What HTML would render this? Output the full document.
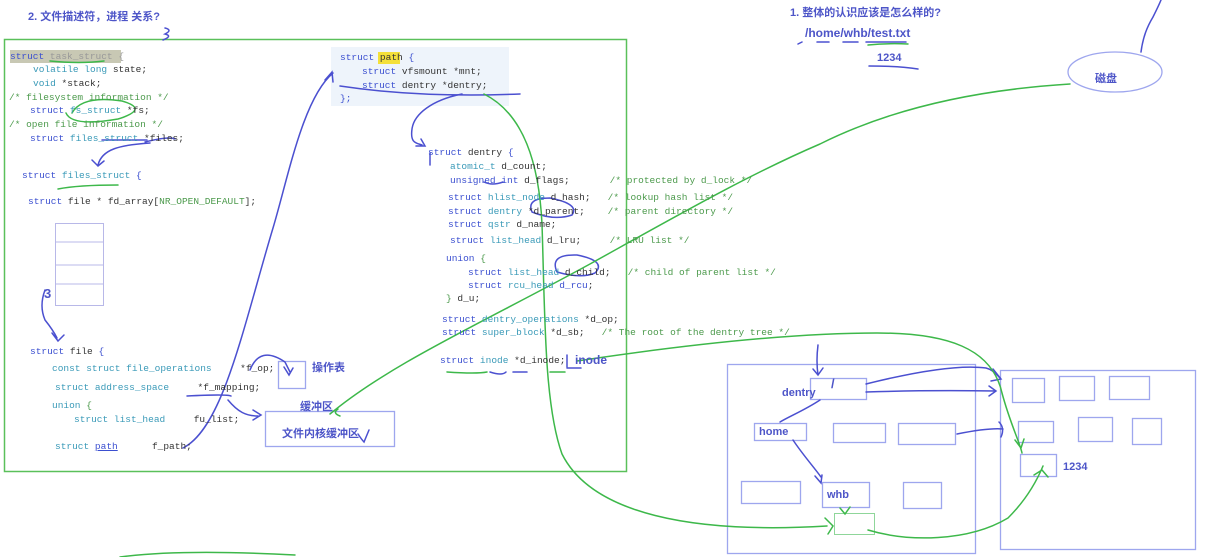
<!DOCTYPE html>
<html><head><meta charset="utf-8"><style>
body{margin:0;width:1225px;height:557px;background:#fff;position:relative;overflow:hidden;font-family:"Liberation Mono",monospace;}
.t{position:absolute;white-space:pre;font-size:9.5px;line-height:11px;color:#333;}
.k{color:#3b4fd0}.ty{color:#3a9ab8}.c{color:#4c9a4c}.g{color:#999}
.h{position:absolute;white-space:pre;font-family:"Liberation Sans","Noto Sans CJK SC",sans-serif;font-weight:bold;color:#4d55c8;font-size:11px;}
svg{position:absolute;left:0;top:0}
</style></head><body>
<svg width="1225" height="557" viewBox="0 0 1225 557" fill="none">
<rect x="4.5" y="39.5" width="622" height="432" stroke="#5ac05a" stroke-width="1.5"/>
<rect x="331" y="47" width="178" height="59" fill="#eef4fb"/>
<rect x="10" y="50" width="111" height="13" fill="#c8c8b4"/>
<rect x="378" y="52" width="22" height="12" fill="#f4e03a"/>
<g stroke="#b8b8e8" stroke-width="1">
<rect x="55.5" y="223.5" width="48" height="82"/>
<line x1="55" y1="242" x2="104" y2="242"/><line x1="55" y1="265" x2="104" y2="265"/><line x1="55" y1="284" x2="104" y2="284"/>
</g>
<g stroke="#9ea6ee" stroke-width="1.3">
<rect x="278.5" y="361.5" width="27" height="27"/>
<rect x="265.5" y="411.5" width="129" height="35"/>
<ellipse cx="1115" cy="72" rx="47" ry="20"/>
<rect x="727.5" y="364.5" width="248" height="189"/>
<rect x="1000.5" y="370.5" width="195" height="179"/>
<rect x="810.5" y="378.5" width="56" height="21"/>
<rect x="754.5" y="423.5" width="52" height="17"/>
<rect x="833.5" y="423.5" width="52" height="19"/>
<rect x="898.5" y="423.5" width="57" height="21"/>
<rect x="741.5" y="481.5" width="59" height="22"/>
<rect x="822.5" y="482.5" width="47" height="25"/>
<rect x="903.5" y="482.5" width="38" height="26"/>
<rect x="1012.5" y="378.5" width="32" height="24"/>
<rect x="1059.5" y="376.5" width="35" height="24"/>
<rect x="1109.5" y="376.5" width="40" height="23"/>
<rect x="1018.5" y="421.5" width="35" height="21"/>
<rect x="1078.5" y="417.5" width="34" height="24"/>
<rect x="1132.5" y="418.5" width="29" height="26"/>
<rect x="1020.5" y="454.5" width="36" height="22"/>
</g>
<rect x="834.5" y="513.5" width="40" height="21" stroke="#8fd69a"/>
<g stroke="#4b50d0" stroke-width="1.5" stroke-linecap="round">
<path d="M165 28 q8 2 0 6 q8 2 -2 6"/>
<path d="M145 142 q24 -6 30 -3 M150 143 c-30 2 -48 6 -52 22 M92 160 l6 6 l6 -5"/>
<path d="M45 290 q-6 16 0 30 q8 10 12 18 M52 333 l6 8 l6 -6"/>
<path d="M183 448 c40 -20 60 -120 90 -220 c15 -50 30 -130 60 -155 M325 80 l7 -8 l1 10"/>
<path d="M462 94 c-30 6 -48 20 -50 35 c-2 14 4 14 10 16 M416 146 l9 0 l-4 -7"/>
<path d="M340 86 q80 12 180 8"/>
<path d="M250 370 q10 -25 35 -8 l5 10 M284 367 l5 8 l4 -7"/>
<path d="M187 396 q40 -2 44 0"/>
<path d="M228 400 c10 12 18 16 30 16 M253 410 l8 5 l-8 5"/>
<path d="M358 434 q4 6 6 8 l5 -12"/>
<path d="M818 345 q-2 16 0 30 M813 369 l5 6 l5 -7"/>
<path d="M866 384 c40 -10 90 -20 120 -16 c8 2 12 8 14 10 M993 369 l8 10 l-10 2"/>
<path d="M866 392 q60 -2 130 -1 M989 386 l7 5 l-7 5"/>
<path d="M820 400 c-15 10 -30 16 -40 22"/>
<path d="M793 440 c10 15 20 26 28 37 M815 476 l6 7 l1 -8"/>
<path d="M957 434 c20 -4 35 -6 46 -5 M999 422 q6 6 2 15"/>
<path d="M1141 52 c2 -15 6 -25 12 -35 c4 -8 6 -12 8 -17"/>
<path d="M567 355 l0 12"/>
<path d="M798 44 l4 -2 M817 42 l12 0 M843 42 l15 0 M866 42 l40 0"/>
<path d="M869 66 q30 0 49 3"/>
<path d="M430 153 l0 12"/>
<path d="M557 272 q-8 -18 20 -17 q30 6 18 18 q-14 6 -38 -1"/>
<path d="M532 212 q-6 -14 18 -14 q30 6 22 17 q-18 6 -40 -3"/>
<path d="M484 182 q8 4 19 0"/>
<path d="M490 372 q12 4 16 0 M513 372 l14 0 M567 368 l14 0"/>
<path d="M102 140 l45 0"/>
</g>
<g stroke="#3db84a" stroke-width="1.5" stroke-linecap="round">
<path d="M50 61 q30 3 54 0"/>
<path d="M72 113 q10 -18 50 -12 q28 8 -4 18 q-46 8 -52 -6"/>
<path d="M58 189 q20 -4 60 -4"/>
<path d="M330 414 c60 -50 150 -90 260 -150 c90 -50 160 -90 230 -120 c80 -40 170 -55 250 -60"/>
<path d="M338 409 q-6 4 2 7"/>
<path d="M484 94 c40 20 55 70 58 130 c3 90 2 180 20 230 c30 60 130 80 265 72 M825 518 l8 8 l-5 8"/>
<path d="M577 361 c80 -12 200 -28 300 -28 c70 0 115 15 125 60 c8 30 18 50 20 60 M1015 440 l6 8 l3 -9"/>
<path d="M868 530 c40 12 100 12 140 -12 c20 -20 30 -40 35 -52 M1034 475 l8 -5 l6 7"/>
<path d="M840 508 l5 6 l5 -7"/>
<path d="M447 372 q30 2 40 0 M550 372 q10 0 15 0"/>
<path d="M120 557 q60 -8 175 -2"/>
<path d="M868 45 q20 -2 40 -1"/>
</g>
</svg>
<div class="h" style="left:28px;top:8px;">2. 文件描述符，进程 关系?</div>
<div class="t" style="left:10px;top:51px"><span class="k">struct</span> <span class="g">task_struct {</span></div>
<div class="t" style="left:33px;top:64px"><span class="ty">volatile long</span> state;</div>
<div class="t" style="left:33px;top:78px"><span class="ty">void</span> *stack;</div>
<div class="t c" style="left:9px;top:92px">/* filesystem information */</div>
<div class="t" style="left:30px;top:105px"><span class="k">struct</span> <span class="ty">fs_struct</span> *fs;</div>
<div class="t c" style="left:9px;top:119px">/* open file information */</div>
<div class="t" style="left:30px;top:133px"><span class="k">struct</span> <span class="ty">files_struct</span> *files;</div>
<div class="t" style="left:22px;top:170px"><span class="k">struct</span> <span class="ty">files_struct</span> <span class="k">{</span></div>
<div class="t" style="left:28px;top:196px"><span class="k">struct</span> file * fd_array[<span class="c">NR_OPEN_DEFAULT</span>];</div>
<div class="h" style="left:44px;top:286px;font-size:13px">3</div>
<div class="t" style="left:30px;top:346px"><span class="k">struct</span> file <span class="k">{</span></div>
<div class="t" style="left:52px;top:363px"><span class="ty">const struct file_operations</span>     *f_op;</div>
<div class="t" style="left:55px;top:382px"><span class="ty">struct address_space</span>     *f_mapping;</div>
<div class="t" style="left:52px;top:400px"><span class="ty">union</span> <span class="c">{</span></div>
<div class="t" style="left:74px;top:414px"><span class="ty">struct list_head</span>     fu_list;</div>
<div class="t" style="left:55px;top:441px"><span class="ty">struct</span> <span class="k" style="text-decoration:underline">path</span>      f_path;</div>
<div class="h" style="left:312px;top:359px">操作表</div>
<div class="h" style="left:300px;top:398px">缓冲区</div>
<div class="h" style="left:282px;top:425px">文件内核缓冲区</div>
<div class="t" style="left:340px;top:52px"><span class="k">struct</span> path <span class="k">{</span></div>
<div class="t" style="left:362px;top:66px"><span class="k">struct</span> vfsmount *mnt;</div>
<div class="t" style="left:362px;top:80px"><span class="k">struct</span> dentry *dentry;</div>
<div class="t" style="left:340px;top:93px"><span class="k">};</span></div>
<div class="t" style="left:428px;top:147px"><span class="k">struct</span> dentry <span class="k">{</span></div>
<div class="t" style="left:450px;top:161px"><span class="ty">atomic_t</span> d_count;</div>
<div class="t" style="left:450px;top:175px"><span class="k">unsigned int</span> d_flags;       <span class="c">/* protected by d_lock */</span></div>
<div class="t" style="left:448px;top:192px"><span class="k">struct</span> <span class="ty">hlist_node</span> d_hash;   <span class="c">/* lookup hash list */</span></div>
<div class="t" style="left:448px;top:206px"><span class="k">struct</span> <span class="ty">dentry</span> *d_parent;    <span class="c">/* parent directory */</span></div>
<div class="t" style="left:448px;top:219px"><span class="k">struct</span> <span class="ty">qstr</span> d_name;</div>
<div class="t" style="left:450px;top:235px"><span class="k">struct</span> <span class="ty">list_head</span> d_lru;     <span class="c">/* LRU list */</span></div>
<div class="t" style="left:446px;top:253px"><span class="k">union</span> <span class="c">{</span></div>
<div class="t" style="left:468px;top:267px"><span class="k">struct</span> <span class="ty">list_head</span> d_child;   <span class="c">/* child of parent list */</span></div>
<div class="t" style="left:468px;top:280px"><span class="k">struct</span> <span class="ty">rcu_head</span> <span class="k">d_rcu</span>;</div>
<div class="t" style="left:446px;top:293px"><span class="c">}</span> d_u;</div>
<div class="t" style="left:442px;top:314px"><span class="k">struct</span> <span class="ty">dentry_operations</span> *d_op;</div>
<div class="t" style="left:442px;top:327px"><span class="k">struct</span> <span class="ty">super_block</span> *d_sb;   <span class="c">/* The root of the dentry tree */</span></div>
<div class="t" style="left:440px;top:355px"><span class="k">struct</span> <span class="ty">inode</span> *d_inode;</div>
<div class="h" style="left:575px;top:353px;font-size:12px">inode</div>
<div class="h" style="left:790px;top:4px">1. 整体的认识应该是怎么样的?</div>
<div class="h" style="left:805px;top:26px;font-size:12px">/home/whb/test.txt</div>
<div class="h" style="left:877px;top:52px">1234</div>
<div class="h" style="left:1095px;top:70px">磁盘</div>
<div class="h" style="left:782px;top:387px">dentry</div>
<div class="h" style="left:831px;top:376px;font-size:13px">/</div>
<div class="h" style="left:759px;top:426px">home</div>
<div class="h" style="left:827px;top:489px">whb</div>
<div class="h" style="left:1063px;top:461px">1234</div>
</body></html>
